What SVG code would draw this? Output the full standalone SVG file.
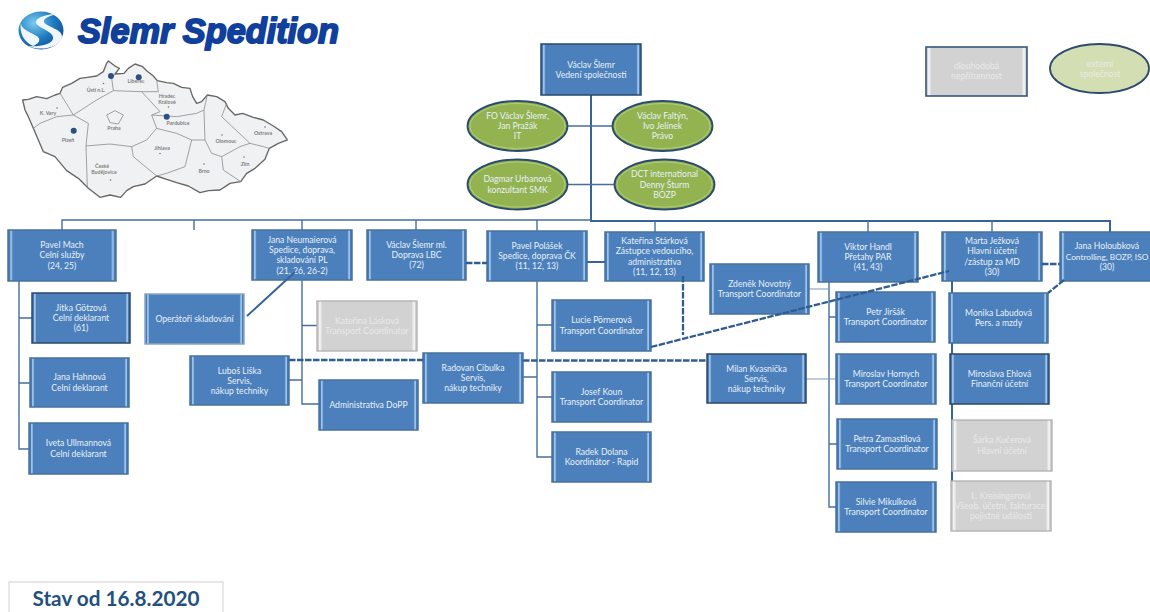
<svg xmlns="http://www.w3.org/2000/svg" width="1150" height="612" viewBox="0 0 1150 612">
<style>
text{font-family:Lato,"Liberation Sans",Arial,sans-serif}
.t{font-size:8.600px;fill:#e9f0f8;text-anchor:middle}
.tg{font-size:8.600px;fill:#e9e9e9;text-anchor:middle}
.b{fill:url(#blue);stroke:#47719f;stroke-width:1.5}
.bd{fill:url(#blue);stroke:#2c476a;stroke-width:1.5}
.g{fill:url(#gray);stroke:#b0b0b0;stroke-width:1.3}
.e{fill:#93b350;stroke:#2a4a6e;stroke-width:1.8}
.er{fill:none;stroke:#b7cd85;stroke-width:.9}
.c{fill:none;stroke:#44709f;stroke-width:1.4}
.cl{fill:none;stroke:#7a9abd;stroke-width:1.2}
.ct{fill:none;stroke:#35649c;stroke-width:2}
.d{fill:none;stroke:#2f5c91;stroke-width:2.3;stroke-dasharray:6.500 1.500}
.m{font-size:5.200px;fill:#808080;text-anchor:middle;font-weight:bold}
.r{fill:none;stroke:#8c8c8c;stroke-width:2.4}
.dot{fill:#2a5085}
.cd{fill:#777}
</style>
<defs>
<linearGradient id="blue"><stop offset="0" stop-color="#4a7db8"/><stop offset=".018" stop-color="#4a7db8"/><stop offset=".025" stop-color="#9cc3e8"/><stop offset=".036" stop-color="#86b0da"/><stop offset=".046" stop-color="#4c80bc"/><stop offset=".954" stop-color="#4c80bc"/><stop offset=".964" stop-color="#86b0da"/><stop offset=".975" stop-color="#9cc3e8"/><stop offset=".982" stop-color="#4a7db8"/></linearGradient>
<linearGradient id="gray"><stop offset="0" stop-color="#d0d0d0"/><stop offset=".018" stop-color="#d0d0d0"/><stop offset=".025" stop-color="#f2f2f2"/><stop offset=".04" stop-color="#ececec"/><stop offset=".05" stop-color="#d2d2d2"/><stop offset=".95" stop-color="#d2d2d2"/><stop offset=".96" stop-color="#ececec"/><stop offset=".975" stop-color="#f2f2f2"/><stop offset=".982" stop-color="#d0d0d0"/></linearGradient>
<radialGradient id="ball" cx=".35" cy=".3" r=".85"><stop offset="0" stop-color="#7ccbf0"/><stop offset=".5" stop-color="#1f7cc0"/><stop offset="1" stop-color="#0b3f8c"/></radialGradient>
</defs>

<g id="logo">
<ellipse cx="41" cy="30.500" rx="22.500" ry="19" fill="url(#ball)"/>
<path d="M57 14C48 14 36 17 36 22C36 28 55 31 53 39C51 45 38 47 28 46C42 52 60 47 62 37C63 29 46 27 44 22C43 18 50 16 57 14ZM21 22C20 30 32 32 38 37C42 41 36 45 33 46C24 42 19 33 21 22Z" fill="#f0f7fc"/>
<text x="78" y="43" font-size="35" font-weight="bold" font-style="italic" fill="#10409c" stroke="#10409c" stroke-width="1.900" stroke-linejoin="round" textLength="261" lengthAdjust="spacingAndGlyphs" style="font-family:'Liberation Sans',Arial,sans-serif">Slemr Spedition</text>
</g>

<g id="map">
<g transform="scale(.33333)">
<path d="M68 300L85 298L110 290L140 296L165 285L180 280L188 262L215 250L240 235L262 232L290 228L310 215L320 190L325 183L345 198L358 205L345 222L372 220L385 205L405 192L428 200L440 212L460 228L472 242L500 248L520 250L545 262L570 265L578 290L590 310L605 305L622 285L650 290L675 305L685 325L705 345L728 340L760 352L790 360L820 378L845 395L862 420L835 430L808 445L795 478L765 505L740 520L722 545L690 550L660 570L625 572L600 578L565 558L530 548L500 538L470 528L435 552L400 560L380 572L362 592L330 585L300 592L265 565L235 535L200 512L165 470L130 455L115 420L100 385L85 350L75 330Z" fill="#f0f1f3" stroke="#666" stroke-width="4" stroke-linejoin="round"/>
<path class="r" d="M180 280L205 320L220 345L170 350L120 370L100 385M220 345L265 370L258 438L262 560M258 438L330 432L395 440L440 420L470 385L455 345L480 335L425 275L475 275L470 240M340 272L425 275M220 345L290 300L340 272L335 235L345 222M470 385L530 400L575 420L615 420L612 330L622 285M455 345L530 350L590 340L612 330M395 440L400 470L470 528M575 420L555 500L500 520L470 528M615 420L635 460L665 470L720 440L750 430L665 350L680 310M665 470L670 510L722 545M750 430L790 440L808 445"/>
<path class="r" stroke-width="1.800" d="M320 345L345 332L370 345L355 372L330 368Z"/>
</g>
<circle class="dot" cx="111" cy="76" r="3"/><circle class="dot" cx="138.700" cy="77.300" r="3"/><circle class="dot" cx="166.700" cy="116.700" r="3"/><circle class="dot" cx="73.700" cy="130.700" r="3"/>
<circle class="cd" cx="103.500" cy="83.500" r=".8"/><circle class="cd" cx="168.500" cy="107" r=".8"/><circle class="cd" cx="57" cy="108" r=".8"/><circle class="cd" cx="160" cy="153.500" r=".8"/><circle class="cd" cx="222" cy="135" r=".8"/><circle class="cd" cx="265" cy="127" r=".8"/><circle class="cd" cx="244" cy="157" r=".8"/><circle class="cd" cx="204" cy="164" r=".8"/><circle class="cd" cx="110.500" cy="180" r=".8"/>
<text class="m" x="96" y="92">Ústí n.L.</text><text class="m" x="136" y="83">Liberec</text><text class="m" x="167" y="98">Hradec</text><text class="m" x="167" y="104">Králové</text><text class="m" x="48" y="115">K. Vary</text><text class="m" x="114" y="130">Praha</text><text class="m" x="178" y="125">Pardubice</text><text class="m" x="68" y="142">Plzeň</text><text class="m" x="162" y="150">Jihlava</text><text class="m" x="226" y="143">Olomouc</text><text class="m" x="263" y="135">Ostrava</text><text class="m" x="245" y="166">Zlín</text><text class="m" x="204" y="173">Brno</text><text class="m" x="102" y="168">České</text><text class="m" x="104" y="174">Budějovice</text>
</g>

<g id="connectors">
<path class="ct" d="M591 95V221H1110V232"/>
<path class="c" d="M568 126H612M568 184.500H614"/>
<path class="c" d="M591 220H62V230M194 220V230M302 220V230M416 220V230M537 220V231M655 221V232M868 221V232M992 221V232"/>
<path class="c" d="M19 281V449H29M19 318H32M19 383H30"/>
<path class="c" d="M302 280V404H319M302 325.500H317M289 380H302"/>
<path class="c" d="M537 281V457H552M537 325H552M537 397H552M523 377H537"/>
<path class="c" d="M829 282V507H836M829 317H836M829 444H837"/>
<path class="cl" d="M809 289H829M806 379H836"/>
<path class="ct" d="M952 281V505"/>
</g>

<g id="n-ceo"><rect class="bd" x="541" y="44" width="100" height="51"/><text class="t"><tspan x="591" y="67.500">Václav Šlemr</tspan><tspan x="591" y="77.800">Vedení společnosti</tspan></text></g>
<g id="n-it"><ellipse class="e" cx="517.500" cy="126" rx="50" ry="25"/><ellipse class="er" cx="517.500" cy="126" rx="47.500" ry="22.500"/><text class="t"><tspan x="517.500" y="118.700">FO Václav Šlemr,</tspan><tspan x="517.500" y="129">Jan Pražák</tspan><tspan x="517.500" y="139.300">IT</tspan></text></g>
<g id="n-pravo"><ellipse class="e" cx="662.500" cy="126" rx="50" ry="25"/><ellipse class="er" cx="662.500" cy="126" rx="47.500" ry="22.500"/><text class="t"><tspan x="662.500" y="118.700">Václav Faltýn,</tspan><tspan x="662.500" y="129">Ivo Jelínek</tspan><tspan x="662.500" y="139.300">Právo</tspan></text></g>
<g id="n-smk"><ellipse class="e" cx="517.500" cy="184.500" rx="50" ry="25"/><ellipse class="er" cx="517.500" cy="184.500" rx="47.500" ry="22.500"/><text class="t"><tspan x="517.500" y="182.300">Dagmar Urbanová</tspan><tspan x="517.500" y="192.600">konzultant SMK</tspan></text></g>
<g id="n-bozp"><ellipse class="e" cx="664.500" cy="184.500" rx="50" ry="25"/><ellipse class="er" cx="664.500" cy="184.500" rx="47.500" ry="22.500"/><text class="t"><tspan x="664.500" y="177.200">DCT international</tspan><tspan x="664.500" y="187.500">Denny Šturm</tspan><tspan x="664.500" y="197.800">BOZP</tspan></text></g>
<g id="legend-gray"><rect x="926" y="47" width="101" height="49" fill="url(#gray)" stroke="#34597f" stroke-width="1.600"/><text class="tg"><tspan x="976.500" y="69">dlouhodobá</tspan><tspan x="976.500" y="79.300">nepřítomnost</tspan></text></g>
<g id="legend-green"><ellipse cx="1099.500" cy="68.500" rx="49.500" ry="24.500" fill="#d3dfb3" stroke="#2c4a6e" stroke-width="1.800"/><text class="tg"><tspan x="1100" y="66.500">externí</tspan><tspan x="1100" y="76.800">společnost</tspan></text></g>

<g id="n-mach"><rect class="b" x="8" y="230" width="108" height="51"/><text class="t"><tspan x="62" y="248">Pavel Mach</tspan><tspan x="62" y="258.300">Celní služby</tspan><tspan x="62" y="268.600">(24, 25)</tspan></text></g>
<g id="n-gotzova"><rect class="bd" x="32" y="293" width="98" height="50"/><text class="t"><tspan x="81" y="310.700">Jitka Götzová</tspan><tspan x="81" y="321">Celní deklarant</tspan><tspan x="81" y="331.300">(61)</tspan></text></g>
<g id="n-hahnova"><rect class="b" x="30" y="358" width="99" height="49"/><text class="t"><tspan x="79.500" y="380.300">Jana Hahnová</tspan><tspan x="79.500" y="390.600">Celní deklarant</tspan></text></g>
<g id="n-ullmannova"><rect class="b" x="29" y="423" width="99" height="51"/><text class="t"><tspan x="78.500" y="446.300">Iveta Ullmannová</tspan><tspan x="78.500" y="456.600">Celní deklarant</tspan></text></g>
<g id="n-neumaierova"><rect class="b" x="252" y="230" width="100" height="50"/><text class="t"><tspan x="302" y="242.600">Jana Neumaierová</tspan><tspan x="302" y="252.900">Spedice, doprava,</tspan><tspan x="302" y="263.200">skladování  PL</tspan><tspan x="302" y="273.500">(21, 26, 26-2)</tspan></text></g>
<g id="n-operatori"><rect class="b" x="145" y="294" width="99" height="50" style="stroke:#8aa5c4"/><text class="t" x="194.500" y="322">Operátoři skladování</text></g>
<g id="n-laskova"><rect class="g" x="317" y="301" width="100" height="50"/><text class="tg"><tspan x="367" y="323.800">Kateřina Lásková</tspan><tspan x="367" y="334.100">Transport Coordinator</tspan></text></g>
<g id="n-liska"><rect class="b" x="190" y="356" width="99" height="49"/><text class="t"><tspan x="239.500" y="373.500">Luboš Liška</tspan><tspan x="239.500" y="383.800">Servis,</tspan><tspan x="239.500" y="394.100">nákup techniky</tspan></text></g>
<g id="n-dopp"><rect class="b" x="319" y="380" width="99" height="50"/><text class="t" x="368.500" y="408">Administrativa DoPP</text></g>
<g id="n-slemr-ml"><rect class="b" x="367" y="230" width="99" height="50"/><text class="t"><tspan x="416.500" y="247.700">Václav Šlemr ml.</tspan><tspan x="416.500" y="258">Doprava LBC</tspan><tspan x="416.500" y="268.300">(72)</tspan></text></g>
<g id="n-polasek"><rect class="b" x="487" y="231" width="100" height="50"/><text class="t"><tspan x="537" y="248.700">Pavel Polášek</tspan><tspan x="537" y="259">Spedice, doprava ČK</tspan><tspan x="537" y="269.300">(11, 12, 13)</tspan></text></g>
<g id="n-starkova"><rect class="b" x="605" y="232" width="99" height="49"/><text class="t"><tspan x="654.500" y="244.100">Kateřina Stárková</tspan><tspan x="654.500" y="254.400">Zástupce vedoucího,</tspan><tspan x="654.500" y="264.700">administrativa</tspan><tspan x="654.500" y="275">(11, 12, 13)</tspan></text></g>
<g id="n-pornerova"><rect class="b" x="552" y="300" width="99" height="51"/><text class="t"><tspan x="601.500" y="323.400">Lucie Pörnerová</tspan><tspan x="601.500" y="333.700">Transport Coordinator</tspan></text></g>
<g id="n-cibulka"><rect class="b" x="423" y="353" width="100" height="50"/><text class="t"><tspan x="473" y="370.700">Radovan Cibulka</tspan><tspan x="473" y="381">Servis,</tspan><tspan x="473" y="391.300">nákup techniky</tspan></text></g>
<g id="n-koun"><rect class="b" x="552" y="372" width="99" height="50"/><text class="t"><tspan x="601.500" y="394.800">Josef Koun</tspan><tspan x="601.500" y="405.100">Transport Coordinator</tspan></text></g>
<g id="n-dolana"><rect class="b" x="552" y="432" width="99" height="50"/><text class="t"><tspan x="601.500" y="454.800">Radek Dolana</tspan><tspan x="601.500" y="465.100">Koordinátor - Rapid</tspan></text></g>
<g id="n-novotny"><rect class="b" x="710" y="264" width="99" height="50"/><text class="t"><tspan x="759.500" y="286.800">Zdeněk Novotný</tspan><tspan x="759.500" y="297.100">Transport Coordinator</tspan></text></g>
<g id="n-kvasnicka"><rect class="bd" x="707" y="354" width="99" height="49"/><text class="t"><tspan x="756.500" y="371.500">Milan Kvasnička</tspan><tspan x="756.500" y="381.800">Servis,</tspan><tspan x="756.500" y="392.100">nákup techniky</tspan></text></g>
<g id="n-handl"><rect class="b" x="818" y="232" width="100" height="50"/><text class="t"><tspan x="868" y="249.700">Viktor Handl</tspan><tspan x="868" y="260">Přetahy PAR</tspan><tspan x="868" y="270.300">(41, 43)</tspan></text></g>
<g id="n-jirsak"><rect class="b" x="836" y="292" width="99" height="50"/><text class="t"><tspan x="885.500" y="314.800">Petr Jiršák</tspan><tspan x="885.500" y="325.100">Transport Coordinator</tspan></text></g>
<g id="n-hornych"><rect class="b" x="836" y="354" width="100" height="50"/><text class="t"><tspan x="886" y="376.800">Miroslav Hornych</tspan><tspan x="886" y="387.100">Transport Coordinator</tspan></text></g>
<g id="n-zamastilova"><rect class="b" x="837" y="419" width="100" height="50"/><text class="t"><tspan x="887" y="441.800">Petra Zamastilová</tspan><tspan x="887" y="452.100">Transport Coordinator</tspan></text></g>
<g id="n-mikulkova"><rect class="b" x="836" y="482" width="100" height="50"/><text class="t"><tspan x="886" y="504.800">Silvie Mikulková</tspan><tspan x="886" y="515.100">Transport Coordinator</tspan></text></g>
<g id="n-jezkova"><rect class="b" x="942" y="232" width="100" height="49"/><text class="t"><tspan x="992" y="244.100">Marta Ježková</tspan><tspan x="992" y="254.400">Hlavní účetní</tspan><tspan x="992" y="264.700">/zástup za MD</tspan><tspan x="992" y="275">(30)</tspan></text></g>
<g id="n-holoubkova"><rect class="b" x="1060" y="232" width="100" height="49"/><text class="t"><tspan x="1107" y="249.200">Jana Holoubková</tspan><tspan x="1107" y="259.500" style="font-size:8.300px">Controlling, BOZP, ISO</tspan><tspan x="1107" y="269.800">(30)</tspan></text></g>
<g id="n-labudova"><rect class="b" x="949" y="293" width="99" height="50"/><text class="t"><tspan x="998.500" y="315.800">Monika Labudová</tspan><tspan x="998.500" y="326.100">Pers. a mzdy</tspan></text></g>
<g id="n-ehlova"><rect class="bd" x="950" y="354" width="99" height="50"/><text class="t"><tspan x="999.500" y="376.800">Miroslava Ehlová</tspan><tspan x="999.500" y="387.100">Finanční účetní</tspan></text></g>
<g id="n-kucerova"><rect class="g" x="952" y="420" width="100" height="51"/><text class="tg"><tspan x="1002" y="443.300">Šárka Kučerová</tspan><tspan x="1002" y="453.600">Hlavní účetní</tspan></text></g>
<g id="n-kreisingerova"><rect class="g" x="951" y="481" width="100" height="50"/><text class="tg"><tspan x="1001" y="498.700">L. Kreisingerová</tspan><tspan x="1001" y="509">Všeob. účetní, fakturace,</tspan><tspan x="1001" y="519.300">pojistné události</tspan></text></g>

<g id="connectors-over">
<path class="ct" stroke-width="2.400" d="M247 316L295 272"/>
<path class="d" d="M289 360H423M523 360.500H707M466 263H487M683 276V335M651 347L949 271M1042 264H1060M1064 280L1048 293"/>
<path class="ct" d="M587 262H605"/>
</g>

<g id="status"><rect x="9" y="582" width="214" height="40" fill="#fff" stroke="#cfcfcf" stroke-width="1"/><text x="116" y="606" font-size="20" font-weight="bold" fill="#24507f" text-anchor="middle" textLength="167" lengthAdjust="spacingAndGlyphs">Stav od 16.8.2020</text></g>
</svg>
